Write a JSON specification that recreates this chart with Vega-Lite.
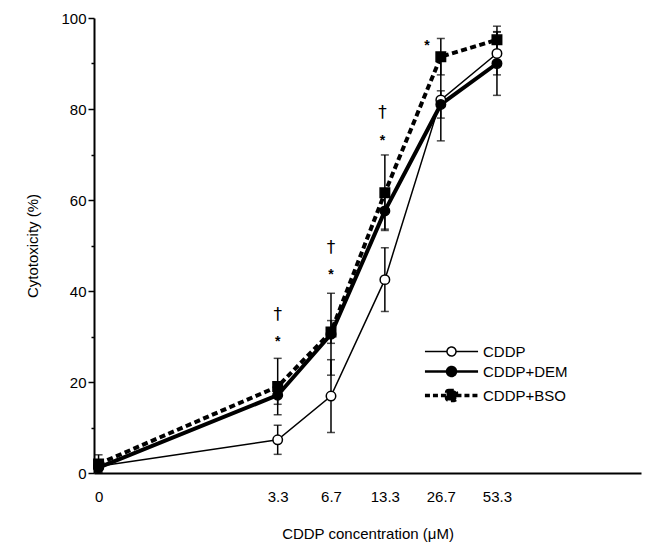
{
  "$schema": "https://vega.github.io/schema/vega-lite/v6.json",
  "autosize": {"type": "none"},
  "padding": {"left": 94, "top": 18, "right": 4, "bottom": 80},
  "width": 547,
  "height": 455,
  "config": {
    "view": {"stroke": null},
    "font": "Liberation Sans",
    "axis": {"grid": false, "domainColor": "black", "domainWidth": 2, "tickColor": "black", "tickWidth": 1.5, "labelColor": "black", "titleColor": "black", "labelFont": "Liberation Sans", "titleFont": "Liberation Sans", "labelFontSize": 15, "titleFontSize": 15, "titleFontWeight": "normal"}
  },
  "datasets": {
    "main": [
      {"series": "CDDP", "conc": 0, "mean": 1.5, "sd": 1.0},
      {"series": "CDDP", "conc": 3.3, "mean": 7.3, "sd": 3.2},
      {"series": "CDDP", "conc": 6.7, "mean": 16.9, "sd": 8.0},
      {"series": "CDDP", "conc": 13.3, "mean": 42.5, "sd": 7.0},
      {"series": "CDDP", "conc": 26.7, "mean": 82.0, "sd": 9.0},
      {"series": "CDDP", "conc": 53.3, "mean": 92.2, "sd": 4.7},
      {"series": "CDDP+DEM", "conc": 0, "mean": 1.2, "sd": 1.0},
      {"series": "CDDP+DEM", "conc": 3.3, "mean": 17.1, "sd": 2.0},
      {"series": "CDDP+DEM", "conc": 6.7, "mean": 30.5, "sd": 9.0},
      {"series": "CDDP+DEM", "conc": 13.3, "mean": 57.6, "sd": 4.0},
      {"series": "CDDP+DEM", "conc": 26.7, "mean": 81.0, "sd": 3.0},
      {"series": "CDDP+DEM", "conc": 53.3, "mean": 90.0, "sd": 7.0},
      {"series": "CDDP+BSO", "conc": 0, "mean": 2.0, "sd": 2.0},
      {"series": "CDDP+BSO", "conc": 3.3, "mean": 19.0, "sd": 6.2},
      {"series": "CDDP+BSO", "conc": 6.7, "mean": 31.0, "sd": 2.5},
      {"series": "CDDP+BSO", "conc": 13.3, "mean": 61.6, "sd": 8.3},
      {"series": "CDDP+BSO", "conc": 26.7, "mean": 91.5, "sd": 4.0},
      {"series": "CDDP+BSO", "conc": 53.3, "mean": 95.2, "sd": 3.0}
    ],
    "notes": [
      {"sym": "†", "conc": 3.3, "ypos": 34.7},
      {"sym": "*", "conc": 3.3, "ypos": 29.7},
      {"sym": "†", "conc": 6.7, "ypos": 49.5},
      {"sym": "*", "conc": 6.7, "ypos": 44.4},
      {"sym": "†", "conc": 12.9, "ypos": 79.1},
      {"sym": "*", "conc": 12.9, "ypos": 73.8},
      {"sym": "*", "conc": 22.5, "ypos": 94.8}
    ]
  },
  "encoding": {
    "x": {
      "field": "conc", "type": "quantitative",
      "scale": {"type": "symlog", "constant": 0.42, "domain": [-0.024, 310], "nice": false, "zero": false},
      "axis": {"values": [0, 3.3, 6.7, 13.3, 26.7, 53.3], "ticks": false, "labelPadding": 16, "labelFlush": false, "labelExpr": "datum.value == 0 ? '0' : format(datum.value, '.1f')", "title": "CDDP concentration (μM)", "titlePadding": 22}
    },
    "y": {"field": "mean", "type": "quantitative", "scale": {"domain": [0, 100], "nice": false},
      "axis": {"values": [0, 10, 20, 30, 40, 50, 60, 70, 80, 90, 100], "labelExpr": "datum.value % 20 == 0 ? datum.label : ''", "tickSize": {"condition": {"test": "datum.value % 20 == 0", "value": 6}, "value": 3}, "labelPadding": 2, "title": "Cytotoxicity (%)", "titlePadding": 20}}
  },
  "layer": [
    {
      "data": {"name": "main"},
      "mark": {"type": "errorbar", "ticks": {"size": 8, "thickness": 1.5, "color": "black"}, "thickness": 1.5, "color": "black"},
      "encoding": {"yError": {"field": "sd"}}
    },
    {
      "data": {"name": "main"},
      "transform": [{"filter": "datum.series === 'CDDP'"}],
      "mark": {"type": "line", "color": "black", "strokeWidth": 1.5}
    },
    {
      "data": {"name": "main"},
      "transform": [{"filter": "datum.series === 'CDDP+DEM'"}],
      "mark": {"type": "line", "color": "black", "strokeWidth": 4}
    },
    {
      "data": {"name": "main"},
      "transform": [{"filter": "datum.series === 'CDDP+BSO'"}],
      "mark": {"type": "line", "color": "black", "strokeWidth": 4, "strokeDash": [6, 3.5]}
    },
    {
      "data": {"name": "main"},
      "transform": [{"filter": "datum.series === 'CDDP'"}],
      "mark": {"type": "point", "shape": "circle", "filled": true, "fill": "white", "stroke": "black", "strokeWidth": 1.5, "opacity": 1, "size": 90}
    },
    {
      "data": {"name": "main"},
      "transform": [{"filter": "datum.series === 'CDDP+DEM'"}],
      "mark": {"type": "point", "shape": "circle", "filled": true, "fill": "black", "stroke": "black", "strokeWidth": 1.5, "opacity": 1, "size": 90}
    },
    {
      "data": {"name": "main"},
      "transform": [{"filter": "datum.series === 'CDDP+BSO'"}],
      "mark": {"type": "point", "shape": "square", "filled": true, "fill": "black", "stroke": "black", "strokeWidth": 1.5, "opacity": 1, "size": 90}
    },
    {
      "data": {"name": "main"},
      "transform": [{"filter": "false"}],
      "mark": {"type": "point", "filled": true, "opacity": 1},
      "encoding": {
        "shape": {"field": "series", "type": "nominal",
          "scale": {"domain": ["CDDP", "CDDP+DEM", "CDDP+BSO"], "range": ["M-5.9,0L-1,0M1,0L5.9,0M1,0A1,1,0,1,1,-1,0A1,1,0,1,1,1,0Z", "M-5.9,0L-1,0M1,0L5.9,0M1,0A1,1,0,1,1,-1,0A1,1,0,1,1,1,0Z", "M-5.9,0L-1.1,0M1.1,0L5.9,0M-0.6,-1.1L0.6,-1.1A0.5,0.5,0,0,1,1.1,-0.6L1.1,0.6A0.5,0.5,0,0,1,0.6,1.1L-0.6,1.1A0.5,0.5,0,0,1,-1.1,0.6L-1.1,-0.6A0.5,0.5,0,0,1,-0.6,-1.1Z"]},
          "legend": {
            "orient": "none", "legendX": 350, "legendY": 326, "title": null, "padding": 0,
            "symbolSize": 81, "symbolOpacity": 1,
            "labelFontSize": 15, "labelFont": "Liberation Sans", "labelColor": "black",
            "labelOffset": 24, "rowPadding": 2
          }
        },
        "fill": {"field": "series", "type": "nominal",
          "scale": {"domain": ["CDDP", "CDDP+DEM", "CDDP+BSO"], "range": ["white", "black", "black"]}},
        "stroke": {"field": "series", "type": "nominal",
          "scale": {"domain": ["CDDP", "CDDP+DEM", "CDDP+BSO"], "range": ["black", "black", "black"]}},
        "strokeDash": {"field": "series", "type": "nominal",
          "scale": {"domain": ["CDDP", "CDDP+DEM", "CDDP+BSO"], "range": [[1, 0], [1, 0], [5, 3]]}},
        "strokeWidth": {"field": "series", "type": "ordinal",
          "scale": {"domain": ["CDDP", "CDDP+DEM", "CDDP+BSO"], "range": [1.5, 3.5, 3.5]}}
      }
    },
    {
      "data": {"name": "notes"},
      "transform": [{"filter": "datum.sym === '†'"}],
      "mark": {"type": "text", "fontSize": 17, "color": "black", "baseline": "middle", "font": "DejaVu Sans"},
      "encoding": {
        "y": {"field": "ypos", "type": "quantitative"},
        "text": {"field": "sym"}
      }
    },
    {
      "data": {"name": "notes"},
      "transform": [{"filter": "datum.sym === '*'"}],
      "mark": {"type": "text", "fontSize": 14, "fontWeight": "bold", "color": "black", "baseline": "middle", "dy": 4, "font": "Liberation Sans"},
      "encoding": {
        "y": {"field": "ypos", "type": "quantitative"},
        "text": {"field": "sym"}
      }
    }
  ]
}
